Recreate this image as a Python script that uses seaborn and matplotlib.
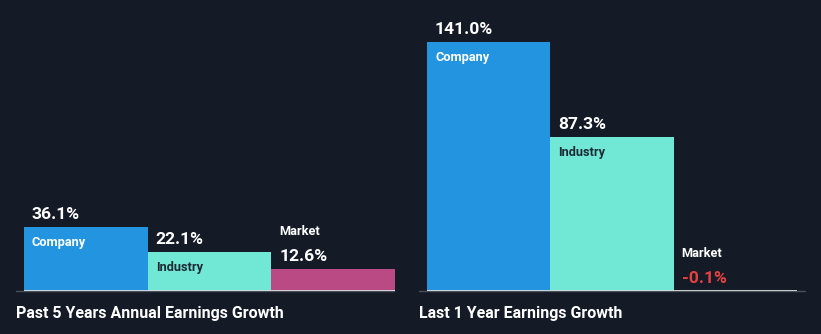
import matplotlib
matplotlib.use("Agg")
import matplotlib.pyplot as plt
import matplotlib.transforms as mtransforms
from matplotlib.lines import Line2D
import seaborn as sns
import pandas as pd

categories = ["Company", "Industry", "Market"]
past5_values = [36.1, 22.1, 12.6]
last1_values = [141.0, 87.3, -0.1]
value_labels_past5 = ["36.1%", "22.1%", "12.6%"]
value_labels_last1 = ["141.0%", "87.3%", "-0.1%"]
panel_titles = ["Past 5 Years Annual Earnings Growth", "Last 1 Year Earnings Growth"]

BG = "#151b26"
colors = {"Company": "#2394df", "Industry": "#71e7d6", "Market": "#b94a84"}

sns.set_theme(style="dark")
plt.rcParams["font.family"] = ["Roboto", "DejaVu Sans"]

W, H = 821, 334
fig = plt.figure(figsize=(W / 100, H / 100), dpi=100, facecolor=BG)

BASE = 291          # baseline y from top (px)
TOP = 20
YMAX = (BASE - TOP) / 1.765

def add_panel(left_px, right_px, values, labels, title, title_x, line_x0, line_x1):
    ax = fig.add_axes([left_px / W, (H - BASE) / H, (right_px - left_px) / W, (BASE - TOP) / H])
    ax.set_facecolor("none")
    df = pd.DataFrame({"cat": categories, "val": values})
    sns.barplot(data=df, x="cat", y="val", hue="cat", palette=colors, width=1.0,
                ax=ax, legend=False, linewidth=0, saturation=1)
    ax.set_xlim(-0.5, 2.5)
    ax.set_ylim(0, YMAX)
    ax.axis("off")
    fig.add_artist(Line2D([line_x0 / W, line_x1 / W], [(H - BASE) / H] * 2,
                          color="#4a505a", lw=1.0, zorder=1))
    ax.axhline(0, color="white", lw=1.3, zorder=5)
    for i, (cat, v, lab) in enumerate(zip(categories, values, labels)):
        top = max(v, 0)
        hpx = top * 1.765
        tr_val = mtransforms.offset_copy(ax.transData, fig, x=8, y=8, units="dots")
        vcol = "#e64141" if v < 0 else "white"
        ax.text(i - 0.5, top, lab, transform=tr_val, color=vcol, fontsize=12.6,
                fontweight="bold", ha="left", va="baseline", clip_on=False)
        if hpx > 30:
            tr_cat = mtransforms.offset_copy(ax.transData, fig, x=8, y=-19, units="dots")
            ccol = "white" if cat != "Industry" else "#1e2a33"
            ax.text(i - 0.5, top, cat, transform=tr_cat, color=ccol, fontsize=9.2,
                    fontweight="bold", ha="left", va="baseline", clip_on=False)
        else:
            tr_cat = mtransforms.offset_copy(ax.transData, fig, x=8, y=34, units="dots")
            ax.text(i - 0.5, top, cat, transform=tr_cat, color="white", fontsize=9.2,
                    fontweight="bold", ha="left", va="baseline", clip_on=False)
    fig.text(title_x / W, (H - 318) / H, title, color="white", fontsize=11.5,
             fontweight="bold", ha="left", va="baseline")
    return ax

add_panel(24, 395, past5_values, value_labels_past5, panel_titles[0], 16, 16, 394)
add_panel(427, 797, last1_values, value_labels_last1, panel_titles[1], 419, 419, 805)

fig.savefig("out.png", dpi=100, facecolor=BG)
